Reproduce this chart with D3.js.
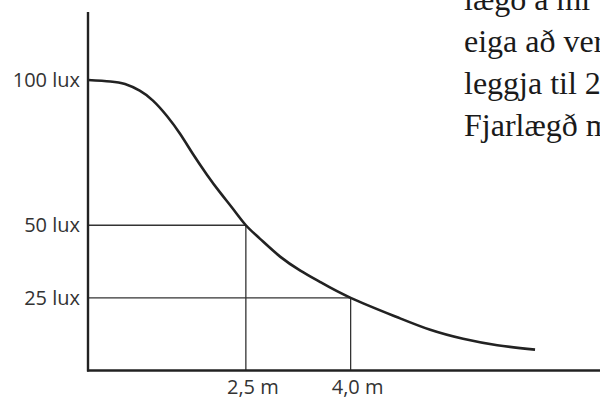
<!DOCTYPE html>
<html>
<head>
<meta charset="utf-8">
<script src="https://cdn.jsdelivr.net/npm/d3@7"></script>
<style>
  html, body { margin: 0; padding: 0; background: #fff; overflow: hidden; }
  svg { display: block; }
</style>
</head>
<body>
<div id="chart-container"></div>
<script>
const w = 600;
const h = 399;

// curve: distance (m) and illuminance (lux)
const distances = [0.24, 0.56, 0.77, 0.98, 1.17, 1.37, 1.56, 1.74, 1.94, 2.13, 2.32, 2.5, 2.7, 2.99, 3.28, 3.56, 4.0, 4.66, 5.14, 5.61, 6.1, 6.64];
const luxValues = [100, 99.5, 98.6, 96.3, 92.9, 87.6, 81.4, 74.6, 67.5, 61.3, 55.5, 50, 45.4, 39.2, 34.4, 30.5, 25, 18.4, 14.0, 10.9, 8.7, 7.2];

const yTickValues = [100, 50, 25];
const yTickLabels = ["100 lux", "50 lux", "25 lux"];
const xTickValues = [2.5, 4.0];
const xTickLabels = ["2,5 m", "4,0 m"];

// guide lines: distance where each level is reached
const guideDistances = [2.5, 4.0];
const guideLux = [50, 25];

const noteLines = ["lægð á mi", "eiga að ver", "leggja til 2", "Fjarlægð m"];

const ink = "#222";

const svg = d3.select("#chart-container").append("svg").attr("width", w).attr("height", h);

const x = d3.scaleLinear().domain([0.24, 7.57]).range([88, 600]);
const y = d3.scaleLinear().domain([0, 123.4]).range([370.5, 12]);

// guide lines
const guides = guideDistances.map((d, i) => ({d: d, v: guideLux[i]}));
svg.selectAll(".hguide")
    .data(guides)
    .enter().append("line")
        .attr("class", "hguide")
        .attr("x1", x.range()[0])
        .attr("x2", d => x(d.d))
        .attr("y1", d => y(d.v))
        .attr("y2", d => y(d.v))
        .style("stroke", "#333")
        .style("stroke-width", 1.3);

svg.selectAll(".vguide")
    .data(guides)
    .enter().append("line")
        .attr("class", "vguide")
        .attr("x1", d => x(d.d))
        .attr("x2", d => x(d.d))
        .attr("y1", y(0))
        .attr("y2", d => y(d.v))
        .style("stroke", "#333")
        .style("stroke-width", 1.3);

// curve
const pts = distances.map((d, i) => [d, luxValues[i]]);
const line = d3.line()
    .x(d => x(d[0]))
    .y(d => y(d[1]))
    .curve(d3.curveNatural);

svg.append("path")
    .attr("d", line(pts))
    .style("fill", "none")
    .style("stroke", ink)
    .style("stroke-width", 2.6)
    .style("stroke-linecap", "butt");

// axes (plain lines, labels drawn by hand below)
svg.append("line")
    .attr("x1", x.range()[0]).attr("x2", x.range()[0])
    .attr("y1", y.range()[1]).attr("y2", y(0) + 1)
    .style("stroke", ink).style("stroke-width", 2.4);

svg.append("line")
    .attr("x1", x.range()[0] - 1).attr("x2", w)
    .attr("y1", y(0)).attr("y2", y(0))
    .style("stroke", ink).style("stroke-width", 2.4);

//y labels
svg.selectAll(".ylab")
    .data(yTickValues)
    .enter().append("text")
        .attr("class", "ylab")
        .attr("x", x.range()[0] - 8)
        .attr("y", d => y(d) + 7)
        .attr("text-anchor", "end")
        .style("font-family", "'Open Sans', sans-serif")
        .style("font-size", "20px")
        .style("fill", "#333")
        .text((d, i) => yTickLabels[i]);

//x labels
svg.selectAll(".xlab")
    .data(xTickValues)
    .enter().append("text")
        .attr("class", "xlab")
        .attr("x", d => x(d) + 7)
        .attr("y", 394)
        .attr("text-anchor", "middle")
        .style("font-family", "'Open Sans', sans-serif")
        .style("font-size", "20px")
        .style("fill", "#333")
        .text((d, i) => xTickLabels[i]);

// serif body text running off the right edge
svg.selectAll(".note")
    .data(noteLines)
    .enter().append("text")
        .attr("class", "note")
        .attr("x", 464)
        .attr("y", (d, i) => 10 + i * 42)
        .style("font-family", "'Liberation Serif', serif")
        .style("font-size", "32px")
        .style("fill", "#1a1a1a")
        .text(d => d);
</script>
</body>
</html>
